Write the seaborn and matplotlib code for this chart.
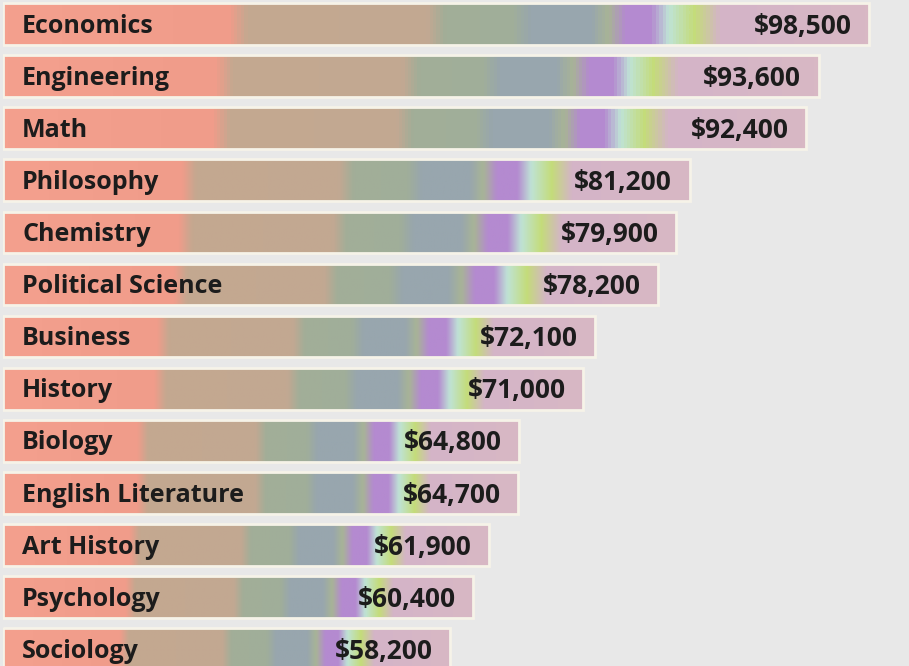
import numpy as np
import pandas as pd
import seaborn as sns
import matplotlib.pyplot as plt
from matplotlib.colors import LinearSegmentedColormap

majors = ["Economics", "Engineering", "Math", "Philosophy", "Chemistry",
          "Political Science", "Business", "History", "Biology",
          "English Literature", "Art History", "Psychology", "Sociology"]
salaries = [98500, 93600, 92400, 81200, 79900, 78200, 72100, 71000,
            64800, 64700, 61900, 60400, 58200]
labels = ["$98,500", "$93,600", "$92,400", "$81,200", "$79,900", "$78,200",
          "$72,100", "$71,000", "$64,800", "$64,700", "$61,900", "$60,400",
          "$58,200"]

df = pd.DataFrame({"major": majors, "salary": salaries})

sns.set_theme(style="white")
plt.rcParams["font.family"] = ["Open Sans", "DejaVu Sans"]

bg = "#e8e8e8"
fig = plt.figure(figsize=(9.09, 6.66), dpi=100, facecolor=bg)
ax = fig.add_axes([3 / 909, 0, 906 / 909, 1])
ax.set_facecolor(bg)

sns.barplot(data=df, x="salary", y="major", orient="h", color="white",
            width=0.8, ax=ax)

# gradient along each bar, stops
grad_cmap = LinearSegmentedColormap.from_list("bar", [
    (0.00, "#f4a08e"), (0.26, "#f09c8a"), (0.28, "#c4a890"),
    (0.49, "#c2a892"), (0.51, "#a2ae98"), (0.59, "#a0ae9a"),
    (0.61, "#98a6ae"), (0.68, "#98a6ae"), (0.70, "#a8b496"),
    (0.72, "#b48ad0"), (0.75, "#b48ad0"), (0.77, "#bfe3d6"),
    (0.80, "#c4dc7a"), (0.83, "#d4b4c8"), (1.00, "#d8b8c4")])

x_lo, x_hi = 15190, 102300
grad = np.linspace(0, 1, 256).reshape(1, -1)
txt = dict(fontweight="bold", color="#1c1c1c", zorder=3)
for p, lab in zip(ax.patches, labels):
    right = p.get_x() + p.get_width()
    p.set_x(x_lo)
    p.set_width(right - x_lo)
    p.set_facecolor("none")
    p.set_edgecolor("#f6f3e8")
    p.set_linewidth(2)
    y0, h = p.get_y(), p.get_height()
    im = ax.imshow(grad, extent=[x_lo, right, y0 + h, y0], aspect="auto",
                   cmap=grad_cmap, zorder=1, interpolation="bilinear")
    im.set_clip_path(p)
    p.set_zorder(2)
    yc = y0 + h / 2
    ax.annotate(lab, (right, yc), xytext=(-12.5, -1.5),
                textcoords="offset points", ha="right", va="center",
                fontsize=19, **txt)

for i, m in enumerate(majors):
    ax.annotate(m, (19 / 906, i), xycoords=ax.get_yaxis_transform(),
                xytext=(0, -1.5), textcoords="offset points",
                ha="left", va="center", fontsize=18, **txt)

ax.set_xlim(x_lo, x_hi)
ax.set_ylim(12.32, -0.46)
ax.set_xlabel("")
ax.set_ylabel("")
ax.set_xticks([])
ax.set_yticks([])
sns.despine(ax=ax, left=True, bottom=True)

plt.savefig("out.png", dpi=100, facecolor=bg)
